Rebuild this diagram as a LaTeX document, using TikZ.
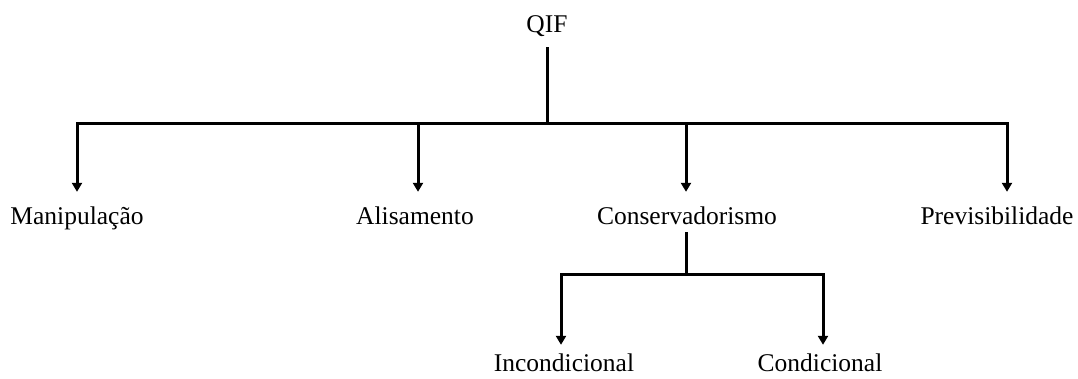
\documentclass[tikz,border=0pt]{standalone}
\usepackage{fontspec}
\setmainfont{Liberation Serif}
\usetikzlibrary{arrows.meta}
\tikzset{
  lbl/.style={font=\fontsize{25.5}{30}\selectfont,inner sep=0pt,
    text height=17pt,text depth=6pt,anchor=base},
  line/.style={line width=3pt},
  arr/.style={line,-{Triangle[width=10pt,length=9pt]}}
}
\begin{document}
\begin{tikzpicture}[x=1pt,y=-1pt]
\useasboundingbox (0,0) rectangle (1078,378);
\node[lbl] (qif) at (547,32) {QIF};
\node[lbl] (mani) at (77,224) {Manipulação};
\node[lbl] (alis) at (415,224) {Alisamento};
\node[lbl] (cons) at (687,224) {Conservadorismo};
\node[lbl] (prev) at (997,224) {Previsibilidade};
\node[lbl] (inco) at (564,371) {Incondicional};
\node[lbl] (cond) at (820,371) {Condicional};
\coordinate (hub) at (547,123);
\coordinate (sub) at (686,274);
% first level
\draw[line,shorten <=9pt] (qif.south) -- (hub);
\draw[arr,shorten >=15pt] (hub) -| (mani.north);
\draw[arr,shorten >=15pt] (hub) -| ([xshift=3pt]alis.north);
\draw[arr,shorten >=15pt] (hub) -| ([xshift=-1pt]cons.north);
\draw[arr,shorten >=15pt] (hub) -| ([xshift=10pt]prev.north);
% second level
\draw[line,shorten <=2pt] ([xshift=-1pt]cons.south) -- (sub);
\draw[arr,shorten >=9pt] (sub) -| ([xshift=-3pt]inco.north);
\draw[arr,shorten >=9pt] (sub) -| ([xshift=3pt]cond.north);
\end{tikzpicture}
\end{document}
